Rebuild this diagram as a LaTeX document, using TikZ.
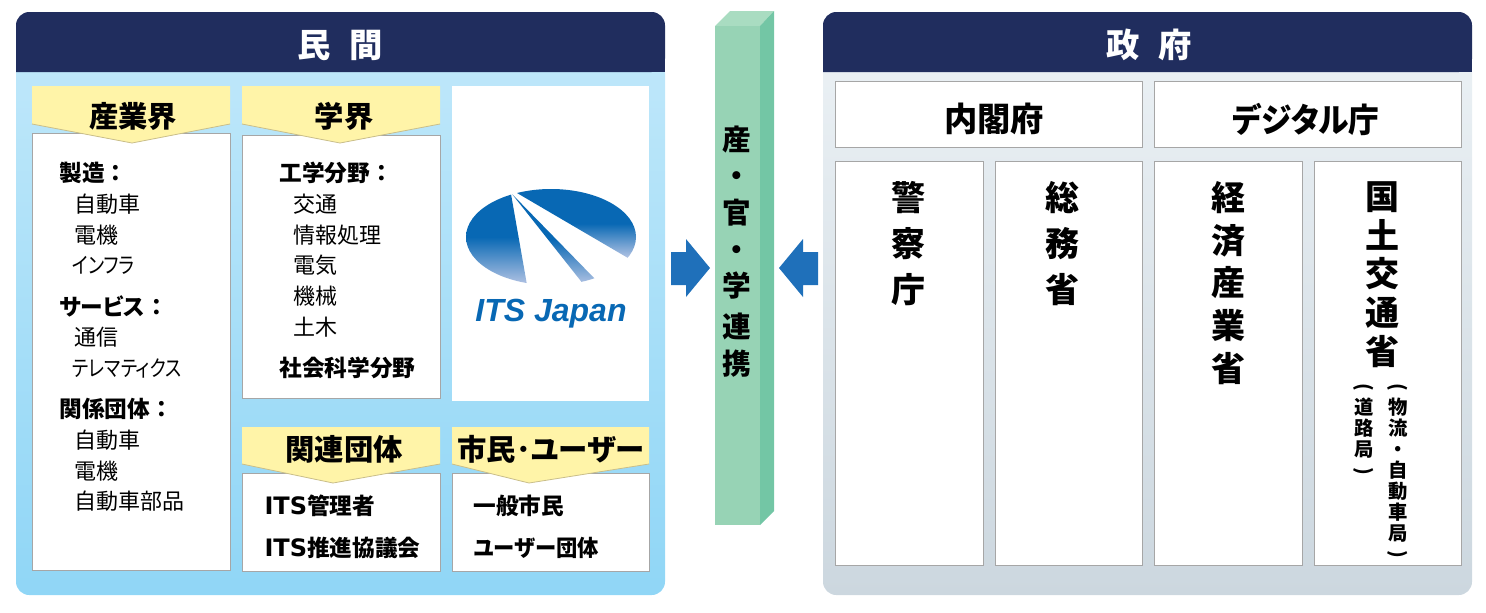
\documentclass[tikz,border=0pt]{standalone}
\usepackage{fontspec}
\setmainfont[RawFeature=+palt]{Noto Sans CJK JP}
\newfontfamily\latinfont{Liberation Sans}
\newfontfamily\itsfont{DejaVu Sans}
\AtBeginDocument{\lineskiplimit=-100pt}
\definecolor{navyhead}{HTML}{202D5E}
\definecolor{pubtop}{HTML}{BEE7FA}
\definecolor{pubbottom}{HTML}{90D6F6}
\definecolor{govtop}{HTML}{EAF0F4}
\definecolor{govbottom}{HTML}{CCD7DF}
\definecolor{bannerfill}{HTML}{FFF4A8}
\definecolor{bannerline}{HTML}{C9BE8A}
\definecolor{linkfront}{HTML}{97D3B5}
\definecolor{linkside}{HTML}{73C6A5}
\definecolor{linktop}{HTML}{A9DCC1}
\definecolor{arrowblue}{HTML}{1F70BA}
\definecolor{logoblue}{HTML}{0868B4}
\definecolor{logopale}{HTML}{B4C4E4}
\tikzset{every picture/.style={line width=0.75pt}}
\tikzset{
  whitebox/.style={draw=black!35,line width=0.5pt,fill=white},
  bannerbox/.style={fill=bannerfill},
  bannerhem/.style={draw=bannerline,line width=0.6pt},
  logopiece/.style={top color=logoblue,bottom color=logopale,middle color=logoblue},
  headtext/.style={text=white,font=\fontsize{25}{30}\bfseries\selectfont},
  bannertext/.style={font=\fontsize{22}{26}\bfseries\selectfont},
  itemtext/.style={anchor=west,inner sep=0.75pt,font=\fontsize{16.5}{20}\selectfont},
  itemhead/.style={anchor=west,inner sep=0.75pt,font=\fontsize{17}{20}\bfseries\selectfont},
  officetext/.style={anchor=north,inner sep=0pt,align=center,font=\fontsize{25.5}{34.3}\bfseries\selectfont},
  bureautext/.style={anchor=north,inner sep=0pt,align=center,font=\fontsize{14.5}{15.7}\bfseries\selectfont},
}
\newcommand{\vparen}[1]{\rotatebox[origin=c]{-90}{#1}}
\newcommand{\itsmark}{{\itsfont\fontsize{18}{20}\selectfont ITS}}
\newcommand{\colonmark}{\hspace{0.25em}：}
\begin{document}
\begin{tikzpicture}[x=0.75pt,y=0.75pt,yscale=-1,xscale=1]
\useasboundingbox (0,0) rectangle (1486,612);

% private side
\shade [top color=pubtop,bottom color=pubbottom,rounded corners=10pt] (16,60) -- (16,595) -- (665,595) -- (665,60) -- cycle ;
\fill [navyhead,rounded corners=10pt] (16,72) -- (16,12) -- (665,12) -- (665,72) [sharp corners] -- cycle ;
\fill [navyhead] (16,50) rectangle (665,72) ;

% public side
\shade [top color=govtop,bottom color=govbottom,rounded corners=10pt] (823,60) -- (823,595) -- (1472,595) -- (1472,60) -- cycle ;
\fill [navyhead,rounded corners=10pt] (823,72) -- (823,12) -- (1472,12) -- (1472,72) [sharp corners] -- cycle ;
\fill [navyhead] (823,50) rectangle (1472,72) ;

% boxes
\draw  [whitebox]  (32,133) rectangle (230,570) ;
\draw  [whitebox]  (242,135) rectangle (440,398) ;
\draw  [whitebox]  (242,473) rectangle (440,571) ;
\draw  [whitebox]  (452,473) rectangle (649,571) ;
\fill  [white]  (452,86) rectangle (649,401) ;

\fill  [bannerbox]  (32,86) -- (230,86) -- (230,124) -- (132,143) -- (32,124) -- cycle ;
\fill  [bannerbox]  (242,86) -- (440,86) -- (440,124) -- (340,143) -- (242,124) -- cycle ;
\fill  [bannerbox]  (242,427) -- (440,427) -- (440,464) -- (333,483) -- (242,464) -- cycle ;
\fill  [bannerbox]  (452,427) -- (649,427) -- (649,464) -- (529,483) -- (452,464) -- cycle ;
\draw  [bannerhem]  (32,124) -- (132,143) -- (230,124) ;
\draw  [bannerhem]  (242,124) -- (340,143) -- (440,124) ;
\draw  [bannerhem]  (242,464) -- (333,483) -- (440,464) ;
\draw  [bannerhem]  (452,464) -- (529,483) -- (649,464) ;

\draw  [whitebox]  (835,81) rectangle (1142,147) ;
\draw  [whitebox]  (1154,81) rectangle (1461,147) ;
\draw  [whitebox]  (835,161) rectangle (983,565) ;
\draw  [whitebox]  (995,161) rectangle (1142,565) ;
\draw  [whitebox]  (1154,161) rectangle (1302,565) ;
\draw  [whitebox]  (1314,161) rectangle (1461,565) ;

% logo
\begin{scope}
\clip (551,237) ellipse (85 and 48) ;
\shade  [logopiece]  (511,194) -- (527,285) -- (465,285) -- (465,189) -- (511,189) -- cycle ;
\shade  [logopiece]  (517,193) -- (628,258) -- (637,258) -- (637,189) -- (517,189) -- cycle ;
\shade  [logopiece]  (512,194) -- (595,279) -- (595,285) -- (584,285) -- cycle ;
\end{scope}

% link column
\fill  [linktop]  (715,26) -- (730,11) -- (774,11) -- (760,26) -- cycle ;
\fill  [linkside]  (760,26) -- (774,11) -- (774,511) -- (760,525) -- cycle ;
\fill  [linkfront]  (715,26) rectangle (760,525) ;

% block arrows
\fill  [arrowblue]  (671,252) -- (686,252) -- (686,239) -- (710,268) -- (686,297) -- (686,285) -- (671,285) -- cycle ;
\fill  [arrowblue]  (818,252) -- (803,252) -- (803,239) -- (779,268) -- (803,297) -- (803,285) -- (818,285) -- cycle ;

% titles
\draw (340,45) node (minkan) [headtext] {民\hspace{0.55em}間};
\draw (1149,45) node (seifu) [headtext] {政\hspace{0.55em}府};
\draw (133,116) node (sangyo) [bannertext] {産業界};
\draw (344,116) node (gakkai) [bannertext] {学界};
\draw (344,449) node (kanren) [bannertext] {関連団体};
\draw (551,449) node (shimin) [bannertext] {市民･ユーザー};
\draw (994,119) node (naikaku) [bannertext,font=\fontsize{25}{30}\bfseries\selectfont] {内閣府};
\draw (1306,119) node (digital) [bannertext,font=\fontsize{25}{30}\bfseries\selectfont] {\scalebox{0.92}[1]{デジタル庁}};

% industry list
\draw (58,173) node (seizo) [itemhead] {製造\colonmark};
\draw (73,204) node (jidosha) [itemtext] {自動車};
\draw (73,235) node (denki) [itemtext] {電機};
\draw (71,265) node (infra) [itemtext] {\scalebox{0.82}[1]{インフラ}};
\draw (58,306) node (service) [itemhead] {サービス\colonmark};
\draw (73,337) node (tsushin) [itemtext] {通信};
\draw (71,368) node (telematics) [itemtext] {\scalebox{0.82}[1]{テレマティクス}};
\draw (58,409) node (kankei) [itemhead] {関係団体\colonmark};
\draw (73,440) node (jidosha2) [itemtext] {自動車};
\draw (73,471) node (denki2) [itemtext] {電機};
\draw (73,501) node (buhin) [itemtext] {自動車部品};

% academic list
\draw (278,173) node (kogaku) [itemhead] {工学分野\colonmark};
\draw (292,204) node (kotsu) [itemtext] {交通};
\draw (292,235) node (joho) [itemtext] {情報処理};
\draw (292,265) node (denki3) [itemtext] {電気};
\draw (292,296) node (kikai) [itemtext] {機械};
\draw (292,327) node (doboku) [itemtext] {土木};
\draw (278,368) node (shakai) [itemhead] {社会科学分野};

\draw (263,506) node (kanrisha) [itemhead] {\itsmark 管理者};
\draw (263,548) node (suishin) [itemhead] {\itsmark 推進協議会};
\draw (472,506) node (ippan) [itemhead] {一般市民};
\draw (472,548) node (user) [itemhead] {\scalebox{0.94}[1]{ユーザー団体}};

\draw (551,314) node (itsjapan) [text=logoblue,font=\fontsize{24}{30}\latinfont\bfseries\itshape\selectfont] {ITS Japan};

% vertical labels
\draw (737,125) node (renkei) [anchor=north,inner sep=0pt,align=center,font=\fontsize{21.5}{27.5}\bfseries\selectfont] {産\\・\\官\\・\\学\\[3pt]連\\携};
\draw (908,181) node (keisatsu) [officetext] {警\\察\\庁};
\draw (1062,181) node (somu) [officetext] {総\\務\\省};
\draw (1228,181) node (keizai) [officetext,font=\fontsize{25.5}{32}\bfseries\selectfont] {経\\済\\産\\業\\省};
\draw (1382,181) node (kokudo) [officetext,font=\fontsize{25.5}{29.1}\bfseries\selectfont] {国\\土\\交\\通\\省};
\draw (1398,383) node (butsuryu) [bureautext] {\vparen{(}\\物\\流\\・\\自\\動\\車\\局\\\vparen{)}};
\draw (1364,383) node (doro) [bureautext] {\vparen{(}\\道\\路\\局\\\vparen{)}};

\end{tikzpicture}
\end{document}
